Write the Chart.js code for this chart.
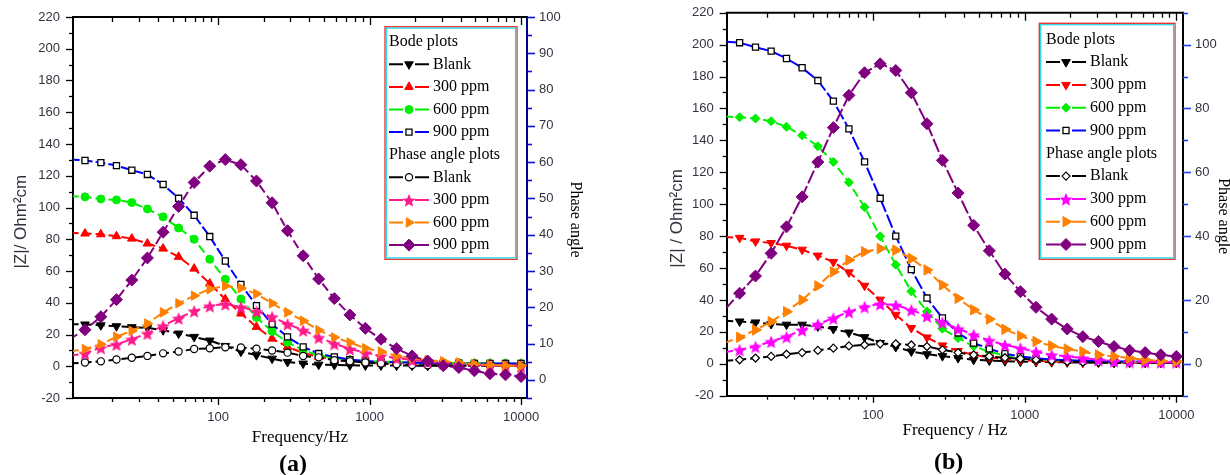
<!DOCTYPE html>
<html>
<head>
<meta charset="utf-8">
<title>Bode and phase angle plots</title>
<script src="https://cdn.jsdelivr.net/npm/chart.js@4/dist/chart.umd.min.js"></script>
<style>
  html, body { margin: 0; padding: 0; background: #fff; }
  #page { position: relative; width: 1230px; height: 475px; overflow: hidden; background: #fff; }
  .panel { position: absolute; top: 0; width: 615px; height: 475px; }
  .tag { position: absolute; font: bold 24px "Liberation Serif", serif; line-height: 1; color: #000; }
</style>
</head>
<body>
<div id="page">
  <div class="panel" style="left:0"><canvas id="chart-a" width="615" height="475"></canvas></div>
  <div class="panel" style="left:615px"><canvas id="chart-b" width="615" height="475"></canvas></div>
  <div class="tag" style="left:279px;top:451px">(a)</div>
  <div class="tag" style="left:934px;top:449px">(b)</div>
</div>
<script>
// frequencies (Hz), first point sits just left of the plotted range
const frequency = [10.45, 13.2, 16.8, 21.3, 26.9, 34.1, 43.3, 54.8, 69.4, 88.0, 111.5, 141.3, 179, 227, 287,
  364, 461, 585, 741, 938, 1189, 1507, 1909, 2419, 3065, 3884, 4920, 6234, 7899, 10000];

const xTickValues = [20, 30, 40, 50, 60, 70, 80, 90, 100, 200, 300, 400, 500, 600, 700, 800, 900,
  1000, 2000, 3000, 4000, 5000, 6000, 7000, 8000, 9000, 10000];
const xTickLabels = [100, 1000, 10000];
const zTickLabels = [-20, 0, 20, 40, 60, 80, 100, 120, 140, 160, 180, 200, 220];
const phaseTickLabelsA = [0, 10, 20, 30, 40, 50, 60, 70, 80, 90, 100];
const phaseTickLabelsB = [0, 20, 40, 60, 80, 100];

const concentrations = ["Blank", "300 ppm", "600 ppm", "900 ppm"];

// panel (a): |Z| (Ohm cm2) and phase angle (deg)
const zBlankA = [26.6, 26.3, 25.8, 25.2, 24.6, 24.2, 22.7, 20.6, 18.5, 16.2, 12.8, 9.2, 7.0, 4.8, 2.7, 1.7, 1.0, 0.8, 0.6, 0.5, 0.5, 0.4, 0.4, 0.3, 0.3, 0.3, 0.3, 0.3, 0.3, 0.3];
const z300A = [84.2, 83.6, 83.1, 81.9, 80.4, 77.3, 74.1, 68.9, 61.5, 52.1, 42.2, 33.2, 24.8, 17.4, 12.2, 8.4, 5.9, 4.5, 3.6, 3.0, 2.6, 2.3, 2.1, 2.0, 1.9, 1.8, 1.7, 1.7, 1.6, 1.6];
const z600A = [107.2, 106.7, 105.4, 104.8, 103.1, 99.1, 94.1, 87.1, 80.0, 67.4, 54.8, 42.4, 30.7, 22.0, 15.1, 10.1, 6.9, 5.2, 4.1, 3.4, 2.9, 2.6, 2.4, 2.2, 2.1, 2.0, 1.9, 1.8, 1.8, 1.7];
const z900A = [130.3, 129.6, 128.3, 126.4, 123.5, 120.8, 114.5, 105.8, 95.1, 81.7, 66.3, 51.5, 38.2, 26.5, 18.5, 12.2, 8.0, 5.9, 4.2, 3.3, 2.8, 2.5, 2.3, 2.1, 2.0, 1.9, 1.8, 1.8, 1.7, 1.7];
const phBlankA = [4.5, 4.8, 5.1, 5.6, 6.1, 6.6, 7.3, 7.8, 8.5, 8.7, 9.0, 8.9, 8.6, 8.1, 7.5, 6.6, 6.2, 5.4, 5.1, 4.8, 4.5, 4.3, 4.1, 4.0, 4.0, 3.9, 3.9, 3.9, 3.8, 3.8];
const ph300A = [6.6, 7.3, 8.9, 9.8, 11.2, 12.8, 14.9, 17.0, 19.0, 20.4, 20.9, 20.1, 18.9, 17.4, 15.4, 13.7, 11.7, 10.0, 8.5, 7.5, 6.6, 6.0, 5.5, 5.0, 4.6, 4.3, 4.1, 4.0, 3.9, 3.8];
const ph600A = [7.8, 8.5, 9.8, 11.9, 13.5, 15.5, 18.6, 21.1, 23.2, 25.0, 25.9, 25.3, 23.7, 21.1, 18.6, 16.3, 13.7, 11.7, 10.3, 8.7, 7.8, 6.6, 6.0, 5.4, 5.1, 4.8, 4.3, 4.1, 3.9, 3.9];
const ph900A = [11.2, 13.8, 17.4, 22.1, 27.5, 33.6, 40.7, 47.8, 54.4, 58.9, 60.7, 59.3, 54.8, 48.8, 41.1, 34.2, 27.8, 22.4, 17.9, 14.2, 11.2, 8.6, 6.6, 5.2, 3.9, 3.4, 2.5, 1.7, 1.4, 0.9];

// panel (b)
const zBlankB = [27.0, 26.5, 25.9, 24.9, 24.5, 24.5, 23.4, 21.8, 19.6, 16.7, 13.0, 10.5, 7.7, 6.0, 4.8, 3.6, 2.5, 2.0, 1.6, 1.3, 1.1, 1.0, 0.9, 0.8, 0.8, 0.7, 0.7, 0.7, 0.6, 0.6];
const z300B = [79.5, 78.9, 76.7, 75.7, 74.0, 71.5, 67.8, 63.8, 57.3, 48.9, 40.2, 30.7, 22.4, 16.5, 11.5, 8.0, 5.6, 4.0, 3.0, 2.3, 1.8, 1.4, 1.2, 1.0, 0.9, 0.8, 0.7, 0.7, 0.6, 0.6];
const z600B = [155.0, 154.5, 153.7, 152.0, 148.5, 143.2, 136.3, 126.5, 113.7, 98.1, 79.9, 62.1, 45.4, 32.8, 22.0, 16.1, 11.0, 7.5, 5.2, 3.8, 2.9, 2.3, 1.9, 1.6, 1.4, 1.3, 1.2, 1.1, 1.1, 1.0];
const z900B = [201.8, 201.2, 198.4, 195.9, 191.3, 185.5, 177.5, 164.6, 147.2, 126.5, 103.7, 80.0, 59.0, 41.2, 28.7, 19.3, 13.0, 9.4, 6.3, 4.5, 3.4, 2.7, 2.2, 1.9, 1.7, 1.5, 1.4, 1.3, 1.2, 1.2];
const phBlankB = [0.9, 1.25, 1.8, 2.3, 3.0, 3.5, 4.2, 4.9, 5.6, 5.9, 6.25, 6.25, 5.9, 5.4, 4.4, 3.5, 2.8, 2.3, 1.9, 1.6, 1.25, 1.0, 0.7, 0.5, 0.4, 0.3, 0.3, 0.3, 0.3, 0.3];
const ph300B = [3.6, 4.4, 5.4, 7.0, 8.5, 10.6, 12.4, 14.3, 16.3, 17.9, 18.75, 18.4, 16.9, 15.0, 13.0, 11.0, 9.1, 7.3, 5.9, 4.9, 3.8, 2.8, 2.3, 1.8, 1.25, 0.9, 0.7, 0.6, 0.5, 0.5];
const ph600B = [6.5, 8.3, 10.6, 13.2, 16.3, 20.0, 24.4, 28.8, 32.5, 35.1, 36.1, 35.6, 33.0, 29.4, 24.7, 20.5, 16.9, 14.0, 10.8, 8.75, 7.0, 5.6, 4.6, 3.8, 2.8, 2.3, 1.8, 1.25, 0.9, 0.7];
const ph900B = [16.8, 22.1, 27.5, 34.6, 42.9, 52.3, 63.2, 74.0, 84.1, 91.2, 94.0, 91.9, 84.9, 75.2, 63.75, 53.5, 43.4, 35.4, 28.1, 22.6, 17.7, 14.0, 10.9, 8.5, 7.0, 5.4, 4.2, 3.5, 2.8, 2.3];

const SANS = '"Liberation Sans", Arial, sans-serif';
const SERIF = '"Liberation Serif", "Times New Roman", serif';
const LABEL_COLOR = "#333340";

function starImage(color, size) {
  const c = document.createElement("canvas");
  c.width = size;
  c.height = size;
  const g = c.getContext("2d");
  const ro = size / 2;
  const ri = ro * 0.45;
  g.beginPath();
  for (let i = 0; i < 10; i++) {
    const r = i % 2 ? ri : ro;
    const a = -Math.PI / 2 + (i * Math.PI) / 5;
    g.lineTo(ro + r * Math.cos(a), ro + 1 + r * Math.sin(a));
  }
  g.closePath();
  g.fillStyle = color;
  g.fill();
  return c;
}

function series(label, values, axis, color, marker, index) {
  return {
    label,
    yAxisID: axis,
    order: 10 - index,
    data: frequency.map((f, i) => ({ x: f, y: values[i] })),
    borderColor: color,
    borderWidth: 2,
    borderDash: marker.dash || [9, 4],
    pointStyle: marker.style,
    pointRadius: (ctx) => (ctx.dataIndex === 0 ? 0 : marker.radius),
    pointRotation: marker.rotation || 0,
    pointBackgroundColor: marker.fill || color,
    pointBorderColor: marker.stroke || color,
    pointBorderWidth: marker.borderWidth || 1,
    fill: false,
    tension: 0,
  };
}

// tick marks, top frame line and the boxed legend
const frameAndLegend = {
  id: "frameAndLegend",
  afterDraw(chart, args, opts) {
    const { ctx, chartArea: area, scales } = chart;
    ctx.save();
    ctx.setLineDash([]);
    ctx.strokeStyle = "#000";
    ctx.lineWidth = 2;
    ctx.beginPath();
    ctx.moveTo(area.left - 1, area.top);
    ctx.lineTo(area.right + 1, area.top);
    ctx.stroke();

    ctx.lineWidth = 1.3;
    scales.x.ticks.forEach((t) => {
      const px = Math.round(scales.x.getPixelForValue(t.value)) + 0.5;
      const len = xTickLabels.includes(t.value) ? 7 : 4;
      ctx.beginPath();
      ctx.moveTo(px, area.bottom);
      ctx.lineTo(px, area.bottom + len);
      ctx.moveTo(px, area.top);
      ctx.lineTo(px, area.top + len + 1);
      ctx.stroke();
    });
    scales.z.ticks.forEach((t) => {
      const py = Math.round(scales.z.getPixelForValue(t.value)) + 0.5;
      const len = t.label !== "" ? 7 : 4;
      ctx.beginPath();
      ctx.moveTo(area.left - len, py);
      ctx.lineTo(area.left, py);
      ctx.stroke();
    });
    ctx.strokeStyle = opts.phaseTickColor;
    ctx.lineWidth = 1.6;
    scales.phase.ticks.forEach((t) => {
      const py = Math.round(scales.phase.getPixelForValue(t.value)) + 0.5;
      const len = t.label !== "" ? 8 : 5;
      ctx.beginPath();
      ctx.moveTo(area.right, py);
      ctx.lineTo(area.right + len, py);
      ctx.stroke();
    });

    const lg = opts.legend;
    const [x1, y1, x2, y2] = lg.box;
    ctx.fillStyle = "#fff";
    ctx.fillRect(x1, y1, x2 - x1, y2 - y1);
    ctx.lineWidth = 1.4;
    ctx.strokeStyle = "#e8383a";
    ctx.strokeRect(x1, y1, x2 - x1, y2 - y1);
    ctx.strokeStyle = "#35d8e0";
    ctx.strokeRect(x1 + 1.4, y1 + 1.4, x2 - x1 - 2.8, y2 - y1 - 2.8);

    ctx.font = "16px " + SERIF;
    ctx.textBaseline = "middle";
    ctx.textAlign = "left";
    const rows = [{ header: "Bode plots" }, 0, 1, 2, 3, { header: "Phase angle plots" }, 4, 5, 6, 7];
    rows.forEach((row, i) => {
      const y = lg.top + i * lg.step;
      ctx.fillStyle = "#000";
      if (typeof row === "object") {
        ctx.fillText(row.header, lg.lineX, y);
        return;
      }
      const ds = chart.data.datasets[row];
      const mid = lg.lineX + 20;
      ctx.strokeStyle = ds.borderColor;
      ctx.lineWidth = 2;
      ctx.beginPath();
      ctx.moveTo(lg.lineX, y);
      ctx.lineTo(mid - 6, y);
      ctx.moveTo(mid + 6, y);
      ctx.lineTo(lg.lineX + 40, y);
      ctx.stroke();
      ctx.fillStyle = ds.pointBackgroundColor;
      ctx.strokeStyle = ds.pointBorderColor;
      ctx.lineWidth = ds.pointBorderWidth;
      Chart.helpers.drawPoint(ctx, {
        pointStyle: ds.pointStyle,
        radius: ds.pointRadius({ dataIndex: 1 }),
        rotation: ds.pointRotation,
        borderWidth: ds.pointBorderWidth,
      }, mid, y);
      ctx.fillStyle = "#000";
      ctx.fillText(ds.label, lg.lineX + 44, y);
    });
    ctx.restore();
  },
};

// vertical axes: fixed width, and no extra room reserved above/below the plot for end labels
function fixVertical(width) {
  return (s) => {
    s.width = width;
    s.paddingTop = 0;
    s.paddingBottom = 0;
  };
}

function buildPanel(p) {
  const datasets = p.values.map((vals, i) =>
    series(concentrations[i % 4], vals, i < 4 ? "z" : "phase", p.colors[i], p.markers[i], i));

  return new Chart(document.getElementById(p.canvas), {
    type: "line",
    data: { datasets },
    plugins: [frameAndLegend],
    options: {
      responsive: false,
      animation: false,
      events: [],
      layout: { autoPadding: false, padding: { top: p.top, left: 0, right: 0, bottom: 0 } },
      plugins: {
        legend: { display: false },
        tooltip: { enabled: false },
        frameAndLegend: { phaseTickColor: p.phaseTickColor, legend: p.legend },
      },
      scales: {
        x: {
          type: "logarithmic",
          min: p.xMin,
          max: p.xMax,
          afterBuildTicks: (s) => { s.ticks = xTickValues.map((v) => ({ value: v })); },
          afterFit: (s) => { s.height = p.xHeight; },
          grid: { display: false, drawTicks: false },
          border: { display: true, color: "#000", width: 2 },
          ticks: {
            autoSkip: false, maxRotation: 0, padding: 12, color: LABEL_COLOR,
            font: { family: SANS, size: 13 },
            callback: (v) => (xTickLabels.includes(v) ? String(v) : ""),
          },
          title: {
            display: true, text: p.xTitle, color: "#000",
            font: { family: SERIF, size: 17 }, padding: { bottom: p.xTitlePad },
          },
        },
        z: {
          position: "left",
          min: -20,
          max: 220,
          afterFit: fixVertical(p.leftWidth),
          grid: { display: false, drawTicks: false },
          border: { display: true, color: "#000", width: 2 },
          ticks: {
            stepSize: 10, autoSkip: false, padding: 13, color: LABEL_COLOR,
            font: { family: SANS, size: 13 },
            callback: (v) => (zTickLabels.includes(v) ? String(v) : ""),
          },
          title: {
            display: true, text: p.zTitle, color: LABEL_COLOR,
            font: { family: SANS, size: 17 }, padding: { top: p.zTitlePad },
          },
        },
        phase: {
          position: "right",
          min: p.phaseMin,
          max: p.phaseMax,
          afterFit: fixVertical(p.rightWidth),
          grid: { display: false, drawTicks: false },
          border: { display: true, color: p.phaseAxisColor, width: 2 },
          ticks: {
            stepSize: p.phaseStep, autoSkip: false, padding: 12, color: LABEL_COLOR,
            font: { family: SANS, size: 13 },
            callback: (v) => (p.phaseLabels.includes(v) ? String(v) : ""),
          },
          title: {
            display: true, text: p.phaseTitle, color: "#000",
            font: { family: SERIF, size: 16, lineHeight: 1 }, padding: { top: p.phaseTitlePad },
          },
        },
      },
    },
  });
}

const markersA = [
  { style: "triangle", radius: 5, rotation: 180 },
  { style: "triangle", radius: 5 },
  { style: "circle", radius: 4 },
  { style: "rect", radius: 4.3, fill: "#fff", stroke: "#000", borderWidth: 1.3, dash: [10, 3] },
  { style: "circle", radius: 3.6, fill: "#fff", stroke: "#000", borderWidth: 1.2 },
  { style: starImage("#ff1a8c", 14), radius: 6 },
  { style: "triangle", radius: 5.5, rotation: 90 },
  { style: "rectRot", radius: 6 },
];
const markersB = [
  { style: "triangle", radius: 5, rotation: 180 },
  { style: "triangle", radius: 5, rotation: 180 },
  { style: "rectRot", radius: 4.5 },
  { style: "rect", radius: 4.3, fill: "#fff", stroke: "#000", borderWidth: 1.3, dash: [14, 3] },
  { style: "rectRot", radius: 4, fill: "#fff", stroke: "#000", borderWidth: 1.2 },
  { style: starImage("#ff00ff", 14), radius: 6 },
  { style: "triangle", radius: 6, rotation: 90 },
  { style: "rectRot", radius: 6, dash: [14, 3] },
];

buildPanel({
  canvas: "chart-a",
  values: [zBlankA, z300A, z600A, z900A, phBlankA, ph300A, ph600A, ph900A],
  colors: ["#000000", "#ff0000", "#00ee00", "#0000ff", "#000000", "#ff1a8c", "#ff8000", "#800080"],
  markers: markersA,
  xMin: 11.0, xMax: 10950,
  top: 17, xHeight: 77, leftWidth: 73, rightWidth: 88,
  xTitle: "Frequency/Hz", xTitlePad: 27,
  zTitle: "|Z|/ Ohm²cm      ", zTitlePad: 11,
  phaseTitle: "      Phase angle", phaseTitlePad: 32,
  phaseMin: -5, phaseMax: 100, phaseStep: 5, phaseLabels: phaseTickLabelsA,
  phaseAxisColor: "#000090", phaseTickColor: "#1010d0",
  legend: { box: [385, 26.7, 517, 259.3], top: 41.7, step: 22.6, lineX: 389 },
});

buildPanel({
  canvas: "chart-b",
  values: [zBlankB, z300B, z600B, z900B, phBlankB, ph300B, ph600B, ph900B],
  colors: ["#000000", "#ff0000", "#00ee00", "#0000ff", "#000000", "#ff00ff", "#ff8000", "#800080"],
  markers: markersB,
  xMin: 10.85, xMax: 11070,
  top: 12.7, xHeight: 79.3, leftWidth: 111.7, rightWidth: 47,
  xTitle: "Frequency / Hz", xTitlePad: 34,
  zTitle: "|Z| / Ohm²cm      ", zTitlePad: 52,
  phaseTitle: "      Phase angle", phaseTitlePad: -1,
  phaseMin: -10, phaseMax: 110, phaseStep: 10, phaseLabels: phaseTickLabelsB,
  phaseAxisColor: "#000000", phaseTickColor: "#2040ff",
  legend: { box: [424.3, 23.3, 560, 259.3], top: 39.3, step: 22.8, lineX: 431 },
});
</script>
</body>
</html>
